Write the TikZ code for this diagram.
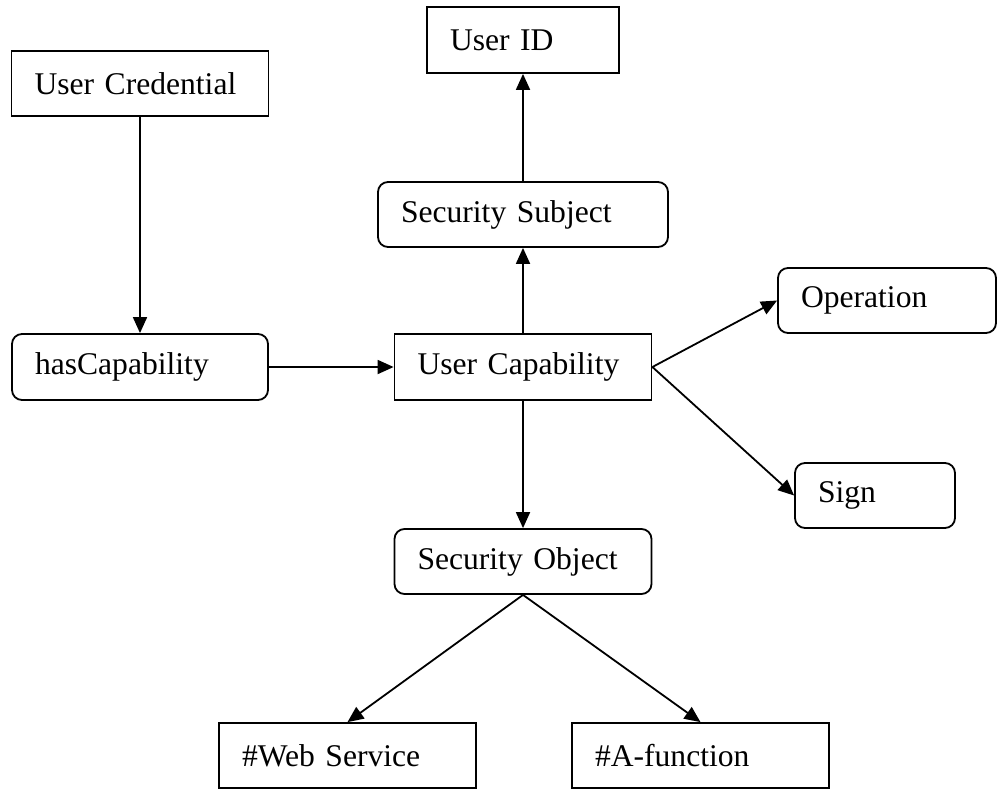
\documentclass[tikz,border=0pt]{standalone}
\usepackage{fontspec}
\setmainfont{Liberation Serif}
\usetikzlibrary{arrows.meta}
\begin{document}
\begin{tikzpicture}[x=1pt,y=-1pt,
  box/.style={draw, line width=1.8pt, minimum height=65pt, inner xsep=23pt, inner ysep=0pt,
    text width=#1, align=left, font=\fontsize{31.6pt}{38pt}\selectfont},
  rbox/.style={box=#1, rounded corners=10pt},
  arr/.style={-{Triangle[length=16pt,width=14pt]}, line width=1.8pt}]
\useasboundingbox (0,0) rectangle (998,790);
\node[box=211pt] (cred) at (140,83.5) {User Credential};
\node[box=146pt, minimum height=66pt] (uid) at (523,40) {User ID};
\node[rbox=244pt] (subj) at (523,214.5) {Security Subject};
\node[rbox=210pt, minimum height=66pt] (has) at (140,367) {hasCapability};
\node[box=211pt, minimum height=66pt] (cap) at (523,367) {User Capability};
\node[rbox=172pt] (oper) at (887,300.5) {Operation};
\node[rbox=114pt] (sign) at (875,495.5) {Sign};
\node[rbox=211pt] (obj) at (523,561.5) {Security Object};
\node[box=211pt] (web) at (347.5,755.5) {\#Web Service};
\node[box=211pt] (afn) at (700.5,755.5) {\#A-function};
\draw[arr] (cred.south) -- (has.north);
\draw[arr] (has.east) -- (cap.west);
\draw[arr] (cap.north) -- (subj.south);
\draw[arr] (subj.north) -- (uid.south);
\draw[arr] (cap.east) -- (oper.west);
\draw[arr] (cap.east) -- (sign.west);
\draw[arr] (cap.south) -- (obj.north);
\draw[arr] (obj.south) -- (web.north);
\draw[arr] (obj.south) -- (afn.north);
\end{tikzpicture}
\end{document}
